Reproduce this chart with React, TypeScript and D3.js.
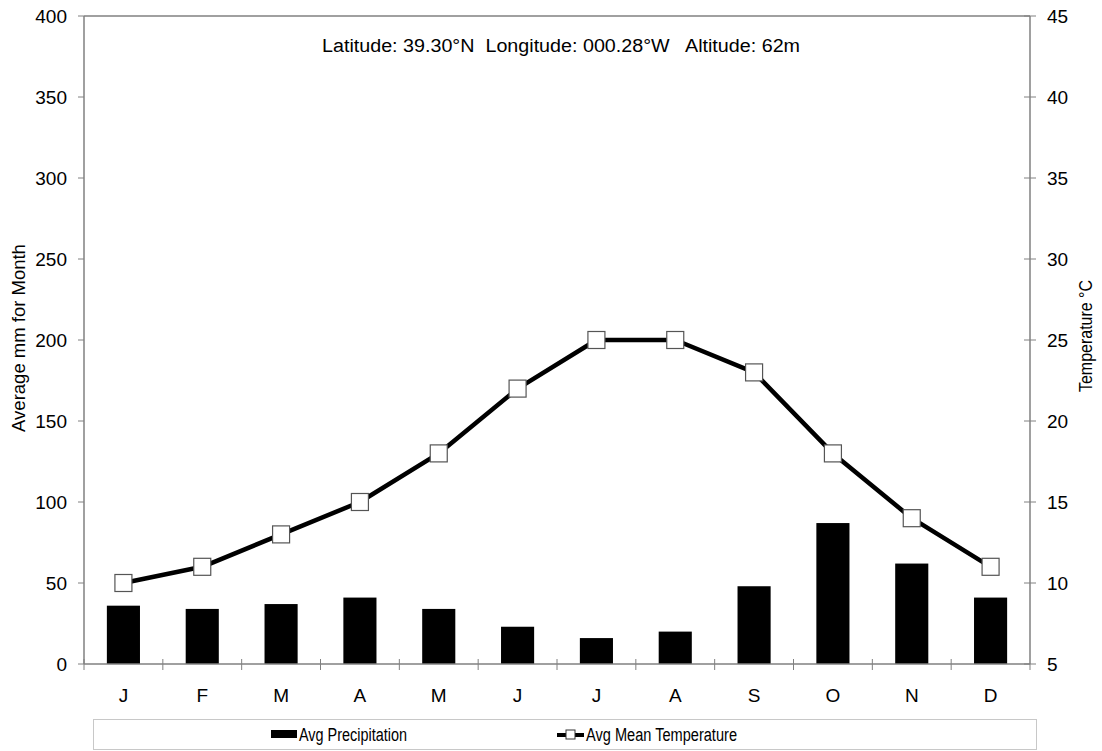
import React from "react";
import * as d3 from "d3";

const months = ["J", "F", "M", "A", "M", "J", "J", "A", "S", "O", "N", "D"];
const precipitation = [36, 34, 37, 41, 34, 23, 16, 20, 48, 87, 62, 41];
const temperature = [10, 11, 13, 15, 18, 22, 25, 25, 23, 18, 14, 11];
const leftTicks = [0, 50, 100, 150, 200, 250, 300, 350, 400];
const rightTicks = [5, 10, 15, 20, 25, 30, 35, 40, 45];
const subtitle = "Latitude: 39.30°N  Longitude: 000.28°W   Altitude: 62m";

const W = 1102;
const H = 751;
const L = 84;
const R = 1030;
const T = 16;
const B = 664;
const FONT = "'Liberation Sans', Arial, sans-serif";
const AXIS = "#808080";

export default function App() {
  const idx = months.map((_, i) => i);
  const x = d3.scaleBand<number>().domain(idx).range([L, R]).paddingInner(0).paddingOuter(0);
  const yL = d3.scaleLinear().domain([0, 400]).range([B, T]);
  const yR = d3.scaleLinear().domain([5, 45]).range([B, T]);
  const bw = x.bandwidth();
  const barW = bw * 0.42;
  const cx = (i: number) => (x(i) as number) + bw / 2;
  const line = d3
    .line<number>()
    .x((_, i) => cx(i))
    .y((d) => yR(d));
  const ms = 17;

  return (
    <svg
      width={W}
      height={H}
      style={{ position: "absolute", left: 0, top: 0, background: "#fff" }}
      fontFamily={FONT}
    >
      <rect x={0} y={0} width={W} height={H} fill="#fff" />
      {precipitation.map((v, i) => (
        <rect
          key={"b" + i}
          x={cx(i) - barW / 2}
          y={yL(v)}
          width={barW}
          height={B - yL(v)}
          fill="#000"
        />
      ))}
      <line x1={L} x2={R} y1={T} y2={T} stroke={AXIS} strokeWidth={1.5} />
      <line x1={L} x2={L} y1={T} y2={B} stroke={AXIS} strokeWidth={1.5} />
      <line x1={R} x2={R} y1={T} y2={B} stroke={AXIS} strokeWidth={1.5} />
      <line x1={L} x2={R} y1={B} y2={B} stroke={AXIS} strokeWidth={1.5} />
      {leftTicks.map((t) => (
        <g key={"l" + t}>
          <line x1={L - 6} x2={L} y1={yL(t)} y2={yL(t)} stroke={AXIS} strokeWidth={1} />
          <text x={67} y={yL(t)} dy="0.35em" textAnchor="end" fontSize={19} fill="#000">
            {t}
          </text>
        </g>
      ))}
      {rightTicks.map((t) => (
        <g key={"r" + t}>
          <line x1={R - 6} x2={R + 6} y1={yR(t)} y2={yR(t)} stroke={AXIS} strokeWidth={1} />
          <text x={1047} y={yR(t)} dy="0.35em" textAnchor="start" fontSize={19} fill="#000">
            {t}
          </text>
        </g>
      ))}
      {idx.map((i) => (
        <line
          key={"c" + i}
          x1={x(i) as number}
          x2={x(i) as number}
          y1={B - 5}
          y2={B + 6}
          stroke={AXIS}
          strokeWidth={1}
        />
      ))}
      <line x1={R} x2={R} y1={B} y2={B + 6} stroke={AXIS} strokeWidth={1} />
      {months.map((m, i) => (
        <text key={"m" + i} x={cx(i)} y={695} dy="0.35em" textAnchor="middle" fontSize={19} fill="#000">
          {m}
        </text>
      ))}
      <path d={line(temperature) || ""} fill="none" stroke="#000" strokeWidth={4.5} strokeLinejoin="round" />
      {temperature.map((t, i) => (
        <rect
          key={"p" + i}
          x={cx(i) - ms / 2}
          y={yR(t) - ms / 2}
          width={ms}
          height={ms}
          fill="#fff"
          stroke="#555"
          strokeWidth={1.2}
        />
      ))}
      <text
        x={322}
        y={46}
        dy="0.35em"
        fontSize={18}
        fill="#000"
        style={{ whiteSpace: "pre" }}
        xmlSpace="preserve"
        textLength={478}
        lengthAdjust="spacingAndGlyphs"
      >
        {subtitle}
      </text>
      <text
        transform={`translate(18.5,338) rotate(-90)`}
        textAnchor="middle"
        dy="0.35em"
        fontSize={18.5}
        fill="#000"
      >
        Average mm for Month
      </text>
      <text
        transform={`translate(1086,336) rotate(-90)`}
        textAnchor="middle"
        dy="0.35em"
        fontSize={18}
        fill="#000"
        textLength={112}
        lengthAdjust="spacingAndGlyphs"
      >
        Temperature °C
      </text>
      <rect x={93.5} y={719.5} width={943} height={30} fill="#fff" stroke="#c8c8c8" strokeWidth={1} />
      <rect x={271} y={730} width={26} height={8} fill="#000" />
      <text
        x={299}
        y={735}
        dy="0.35em"
        fontSize={18}
        fill="#000"
        textLength={108}
        lengthAdjust="spacingAndGlyphs"
      >
        Avg Precipitation
      </text>
      <line x1={557} x2={584} y1={735} y2={735} stroke="#000" strokeWidth={4} />
      <rect x={566} y={730} width={9} height={9} fill="#fff" stroke="#333" strokeWidth={1} />
      <text
        x={586}
        y={735}
        dy="0.35em"
        fontSize={18}
        fill="#000"
        textLength={151}
        lengthAdjust="spacingAndGlyphs"
      >
        Avg Mean Temperature
      </text>
    </svg>
  );
}
